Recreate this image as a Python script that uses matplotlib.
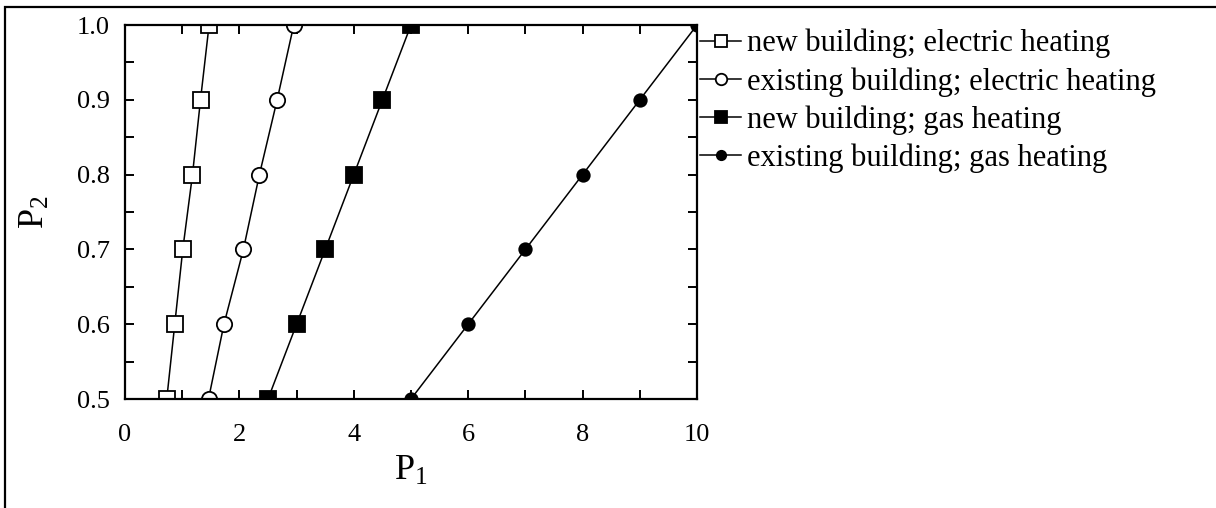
import matplotlib
matplotlib.use("Agg")
import matplotlib.pyplot as plt
from matplotlib.patches import Rectangle

plt.rcParams['font.family'] = ['Liberation Serif', 'DejaVu Serif']
plt.rcParams['mathtext.fontset'] = 'custom'
plt.rcParams['mathtext.rm'] = 'Liberation Serif'
plt.rcParams['mathtext.it'] = 'Liberation Serif'

# P2 levels shared by all four curves
p2 = [0.5, 0.6, 0.7, 0.8, 0.9, 1.0]

# P1 values for each building / heating combination
p1_new_electric = [0.73, 0.87, 1.01, 1.18, 1.32, 1.47]
p1_existing_electric = [1.46, 1.73, 2.07, 2.35, 2.66, 2.95]
p1_new_gas = [2.5, 3.0, 3.5, 4.0, 4.5, 5.0]
p1_existing_gas = [5.0, 6.0, 7.0, 8.0, 9.0, 10.0]

labels = [
    "new building; electric heating",
    "existing building; electric heating",
    "new building; gas heating",
    "existing building; gas heating",
]

W, H = 1216, 508
fig = plt.figure(figsize=(W / 100, H / 100), dpi=100)
ax = fig.add_axes([125 / W, 1 - 399 / H, (697 - 125) / W, (399 - 25) / H])

lw = 1.1
series = [
    (p1_new_electric, dict(marker='s', mfc='white', ms=11)),
    (p1_existing_electric, dict(marker='o', mfc='white', ms=11)),
    (p1_new_gas, dict(marker='s', mfc='black', ms=11)),
    (p1_existing_gas, dict(marker='o', mfc='black', ms=9)),
]
for (x, style), lab in zip(series, labels):
    ax.plot(x, p2, color='black', lw=lw, mec='black', mew=1.3, label=lab, **style)

ax.set_xlim(0, 10)
ax.set_ylim(0.5, 1.0)
ax.set_xticks([0, 2, 4, 6, 8, 10])
ax.set_xticks([1, 3, 5, 7, 9], minor=True)
ax.set_yticks([0.5, 0.6, 0.7, 0.8, 0.9, 1.0])
ax.set_yticks([0.55, 0.65, 0.75, 0.85, 0.95], minor=True)
ax.set_yticklabels(["0.5", "0.6", "0.7", "0.8", "0.9", "1.0"])
for side in ax.spines.values():
    side.set_linewidth(1.6)
ax.tick_params(which='both', direction='in', top=True, right=True,
               length=6.5, width=1.4, labelsize=19)
ax.tick_params(axis='x', which='both', pad=18)
ax.tick_params(axis='y', which='both', pad=11)

ax.set_xlabel(r"P$_1$", fontsize=26, labelpad=6)
ax.set_ylabel(r"P$_2$", fontsize=26, labelpad=18)

ax.legend(loc='upper left', bbox_to_anchor=(700 / W, 1 - 29 / H),
          bbox_transform=fig.transFigure, frameon=False, fontsize=22,
          borderaxespad=0, borderpad=0, handlelength=1.35,
          handletextpad=0.2, labelspacing=0.28, markerscale=0.75)

# outer border around the figure
fig.patches.append(Rectangle((5 / W, -0.5), 2.0, 0.5 + 1 - 7 / H,
                             transform=fig.transFigure, fill=False,
                             lw=1.6, edgecolor='black'))

fig.savefig("out.png", dpi=100)
